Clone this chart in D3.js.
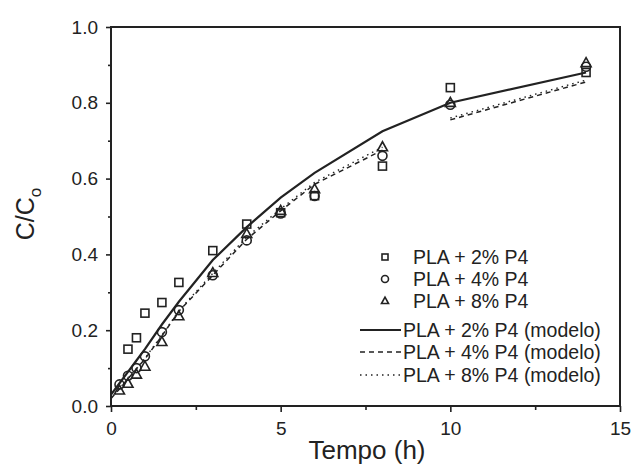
<!DOCTYPE html>
<html>
<head>
<meta charset="utf-8">
<script src="https://cdn.jsdelivr.net/npm/d3@7"></script>
<style>
  body { margin: 0; background: #fff; }
  text { font-family: "Liberation Sans", Arial, sans-serif; fill: #222; }
</style>
</head>
<body>
<div id="chart"></div>
<script>
// time points (h)
var times = [0.25, 0.5, 0.75, 1, 1.5, 2, 3, 4, 5, 6, 8, 10, 14];

// measured C/Co
var pla2 = [null, 0.15, 0.18, 0.245, 0.273, 0.326, 0.41, 0.48, 0.51, 0.555, 0.633, 0.84, 0.88];
var pla4 = [0.057, 0.08, 0.10, 0.131, 0.195, 0.253, 0.345, 0.437, 0.508, 0.554, 0.66, 0.795, 0.895];
var pla8 = [0.041, 0.059, 0.083, 0.104, 0.169, 0.237, 0.351, 0.454, 0.515, 0.572, 0.683, 0.80, 0.905];

// model curves
var model2_t = [0, 0.25, 0.5, 0.75, 1, 1.5, 2, 3, 4, 5, 6, 8, 10, 14];
var model2 = [0.03, 0.06, 0.09, 0.12, 0.15, 0.215, 0.275, 0.385, 0.472, 0.55, 0.615, 0.725, 0.80, 0.88];
// 4% and 8% models have a break between 8 h and 10 h (null = gap)
var model48_t = [0, 0.25, 0.5, 0.75, 1, 1.5, 2, 3, 4, 5, 6, 8, 9, 10, 14];
var model4 = [0.02, 0.045, 0.072, 0.098, 0.124, 0.185, 0.25, 0.345, 0.44, 0.515, 0.585, 0.675, null, 0.755, 0.855];
var model8 = [0.02, 0.046, 0.073, 0.099, 0.126, 0.187, 0.252, 0.35, 0.446, 0.52, 0.59, 0.683, null, 0.76, 0.86];

var x_ticks = [0, 5, 10, 15];
var x_minor_ticks = [2.5, 7.5, 12.5];
var y_ticks = [0, 0.2, 0.4, 0.6, 0.8, 1.0];
var y_minor_ticks = [0.1, 0.3, 0.5, 0.7, 0.9];

var legend_labels = ['PLA + 2% P4', 'PLA + 4% P4', 'PLA + 8% P4',
  'PLA + 2% P4 (modelo)', 'PLA + 4% P4 (modelo)', 'PLA + 8% P4 (modelo)'];

var width = 634, height = 470;
var margin = {left: 111, right: 14, top: 27, bottom: 64};

var svg = d3.select('#chart').append('svg')
    .attr('width', width)
    .attr('height', height);

var x = d3.scaleLinear().domain([0, 15]).range([margin.left, width - margin.right]);
var y = d3.scaleLinear().domain([0, 1]).range([height - margin.bottom, margin.top]);

// frame
svg.append('rect')
  .attr('x', x(0)).attr('y', y(1))
  .attr('width', x(15) - x(0)).attr('height', y(0) - y(1))
  .attr('fill', 'none').attr('stroke', '#222').attr('stroke-width', 2);

// axes
var x_axis = svg.append('g')
  .attr('transform', 'translate(0,' + y(0) + ')')
  .call(d3.axisBottom(x).tickValues(x_ticks).tickFormat(d3.format('d')).tickSize(6).tickPadding(10));
var x_minor = svg.append('g')
  .attr('transform', 'translate(0,' + y(0) + ')')
  .call(d3.axisBottom(x).tickValues(x_minor_ticks).tickFormat('').tickSize(4));

var y_axis = svg.append('g')
  .attr('transform', 'translate(' + x(0) + ',0)')
  .call(d3.axisLeft(y).tickValues(y_ticks).tickFormat(d3.format('.1f')).tickSize(5).tickPadding(8));
var y_minor = svg.append('g')
  .attr('transform', 'translate(' + x(0) + ',0)')
  .call(d3.axisLeft(y).tickValues(y_minor_ticks).tickFormat('').tickSize(3));

[x_axis, x_minor, y_axis, y_minor].forEach(function(g) {
  g.select('.domain').remove();
  g.selectAll('line').attr('stroke', '#222').attr('stroke-width', 1.6);
  g.selectAll('text').attr('font-size', 19).attr('fill', '#222')
    .style('font-family', '"Liberation Sans", Arial, sans-serif');
});

// axis titles
svg.append('text')
  .attr('x', 367).attr('y', 459)
  .attr('text-anchor', 'middle')
  .attr('font-size', 26)
  .text('Tempo (h)');

var ytitle = svg.append('text')
  .attr('transform', 'translate(34,' + 214 + ') rotate(-90)')
  .attr('text-anchor', 'middle')
  .attr('font-size', 25);
ytitle.append('tspan').text('C/C');
ytitle.append('tspan').attr('font-size', 17).attr('dy', 7).text('o');

// model lines
var line = d3.line()
  .defined(function(d) { return d[1] !== null; })
  .x(function(d) { return x(d[0]); })
  .y(function(d) { return y(d[1]); });

function zip(ts, vs) {
  return ts.map(function(t, i) { return [t, vs[i]]; });
}

var styles = [
  {dash: null, width: 2.2},
  {dash: '5,4', width: 1.5},
  {dash: '1.5,4', width: 1.4}
];

[[model2_t, model2], [model48_t, model4], [model48_t, model8]].forEach(function(m, i) {
  svg.append('path')
    .attr('d', line(zip(m[0], m[1])))
    .attr('fill', 'none')
    .attr('stroke', '#222')
    .attr('stroke-width', styles[i].width)
    .attr('stroke-dasharray', styles[i].dash);
});

// symbols
function draw_square(g, cx, cy, s) {
  g.append('rect')
    .attr('x', cx - s/2).attr('y', cy - s/2)
    .attr('width', s).attr('height', s)
    .attr('fill', 'none').attr('stroke', '#222').attr('stroke-width', 1.6);
}
function draw_circle(g, cx, cy, s) {
  g.append('circle')
    .attr('cx', cx).attr('cy', cy).attr('r', s/2)
    .attr('fill', 'none').attr('stroke', '#222').attr('stroke-width', 1.6);
}
function draw_triangle(g, cx, cy, s) {
  var h = s * 0.9;
  g.append('polygon')
    .attr('points', cx + ',' + (cy - h*0.6) + ' ' + (cx + s/2) + ',' + (cy + h*0.4) + ' ' + (cx - s/2) + ',' + (cy + h*0.4))
    .attr('fill', 'none').attr('stroke', '#222').attr('stroke-width', 1.6);
}

var g_pts = svg.append('g');
times.forEach(function(t, i) {
  if (pla2[i] !== null) draw_square(g_pts, x(t), y(pla2[i]), 8);
  draw_circle(g_pts, x(t), y(pla4[i]), 9);
  draw_triangle(g_pts, x(t), y(pla8[i]), 10);
});

// legend
var g_leg = svg.append('g');
var leg_y = [257, 279, 301, 330, 352, 375];
var markers = [draw_square, draw_circle, draw_triangle];
legend_labels.forEach(function(label, i) {
  if (i < 3) {
    markers[i](g_leg, 385, leg_y[i], i == 0 ? 6 : 7);
    g_leg.append('text')
      .attr('x', 413).attr('y', leg_y[i] + 7)
      .attr('font-size', 19.5)
      .text(label);
  } else {
    var st = styles[i - 3];
    g_leg.append('line')
      .attr('x1', 360).attr('x2', 401)
      .attr('y1', leg_y[i]).attr('y2', leg_y[i])
      .attr('stroke', '#222')
      .attr('stroke-width', st.width)
      .attr('stroke-dasharray', st.dash);
    g_leg.append('text')
      .attr('x', 403).attr('y', leg_y[i] + 7)
      .attr('font-size', 19.5)
      .text(label);
  }
});
</script>
</body>
</html>
